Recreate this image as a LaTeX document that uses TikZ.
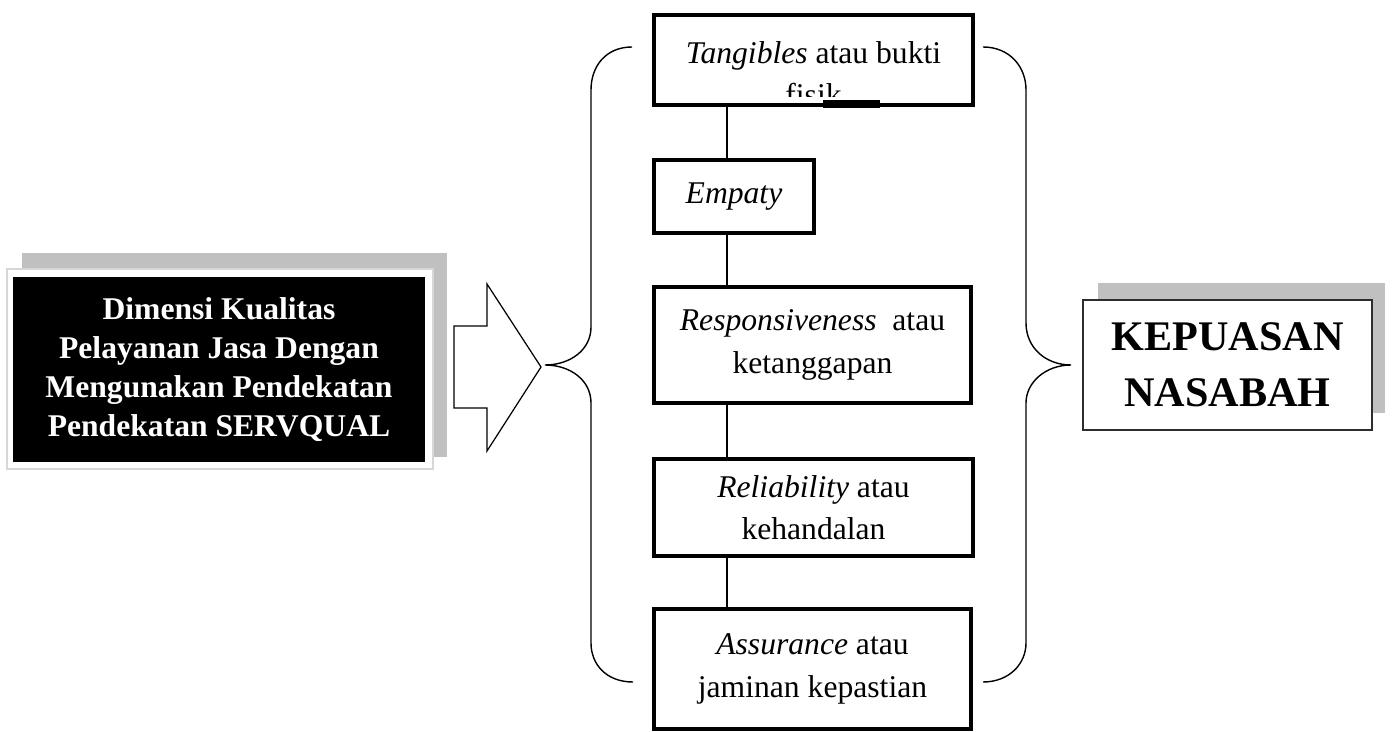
\documentclass[tikz,border=0pt]{standalone}
\usepackage{fontspec}
\setmainfont{Liberation Serif}
\usepackage{xcolor}
\definecolor{shadowgray}{RGB}{192,192,192}
\definecolor{framegray}{RGB}{215,215,215}
\definecolor{edgegray}{RGB}{45,45,45}
\usetikzlibrary{calc}

\begin{document}
\begin{tikzpicture}[x=0.02cm, y=-0.02cm,
    dimbox/.style={draw, rectangle, line width=2.3pt, fill=white, inner sep=0pt, align=center, font=\fontsize{18}{24}\selectfont},
    brace/.style={line width=0.8pt},
    link/.style={line width=0.8pt}]
    \useasboundingbox (0,0) rectangle (1393,732);

    % Input box with shadow
    \fill[shadowgray] (22,253) rectangle (447,457);
    \draw[framegray, fill=white, line width=0.6pt] (7,269) rectangle (433,469);
    \node[fill=black, text=white, minimum width=8.24cm, minimum height=3.7cm, inner sep=0pt, align=center, font=\bfseries\fontsize{18}{22.2}\selectfont] (dimensi) at (219,369.5) {Dimensi Kualitas\\Pelayanan Jasa Dengan\\Mengunakan Pendekatan\\Pendekatan SERVQUAL};

    % Block arrow
    \draw[line width=0.7pt] (454,326) -- (487,326) -- (487,284) -- (541,367) -- (487,451) -- (487,408) -- (454,408) -- cycle;

    % Left brace
    \draw[brace] (632,47) .. controls (606,47) and (591,66) .. (591,90) -- (591,327) .. controls (591,350) and (570,365) .. (545,365) .. controls (570,365) and (591,380) .. (591,403) -- (591,643) .. controls (591,664) and (606,682) .. (633,682);

    % Dimension boxes
    \node[dimbox, minimum width=6.38cm, minimum height=1.8cm] (tang) at (813.5,60) {};
    \begin{scope}
        \clip (656,17) rectangle (971,97);
        \node[inner sep=0pt, align=center, anchor=north, font=\fontsize{18}{24}\selectfont] (tangtxt) at (813.5,41) {\textit{Tangibles} atau bukti\\fisik};
    \end{scope}
    \fill (823,100) rectangle (880,108);

    \node[dimbox, minimum width=3.2cm, minimum height=1.46cm] (emp) at (734,196.5) {\textit{Empaty}};
    \node[dimbox, minimum width=6.34cm, minimum height=2.32cm] (resp) at (812.5,345) {\textit{Responsiveness}~ atau\\ketanggapan};
    \node[dimbox, minimum width=6.38cm, minimum height=1.94cm] (rel) at (813.5,507.5) {\textit{Reliability} atau\\kehandalan};
    \node[dimbox, minimum width=6.34cm, minimum height=2.4cm] (assu) at (812.5,669) {\textit{Assurance} atau\\jaminan kepastian};

    % Links between boxes
    \coordinate (spine) at (727,0);
    \draw[link] (tang.south -| spine) -- (emp.north -| spine);
    \draw[link] (emp.south -| spine) -- (resp.north -| spine);
    \draw[link] (resp.south -| spine) -- (rel.north -| spine);
    \draw[link] (rel.south -| spine) -- (assu.north -| spine);

    % Right brace
    \draw[brace] (983,47) .. controls (1009,47) and (1026,66) .. (1026,90) -- (1026,323) .. controls (1026,348) and (1046,365) .. (1071,365) .. controls (1046,365) and (1026,382) .. (1026,403) -- (1026,643) .. controls (1026,664) and (1009,682) .. (983,682);

    % Output box with shadow
    \fill[shadowgray] (1098,283) rectangle (1385,413);
    \node[draw=edgegray, fill=white, line width=1.2pt, minimum width=5.78cm, minimum height=2.6cm, inner sep=0pt, align=center, font=\bfseries\fontsize{24}{31.9}\selectfont] (kepuasan) at (1227.5,365) {KEPUASAN\\NASABAH};
\end{tikzpicture}
\end{document}
